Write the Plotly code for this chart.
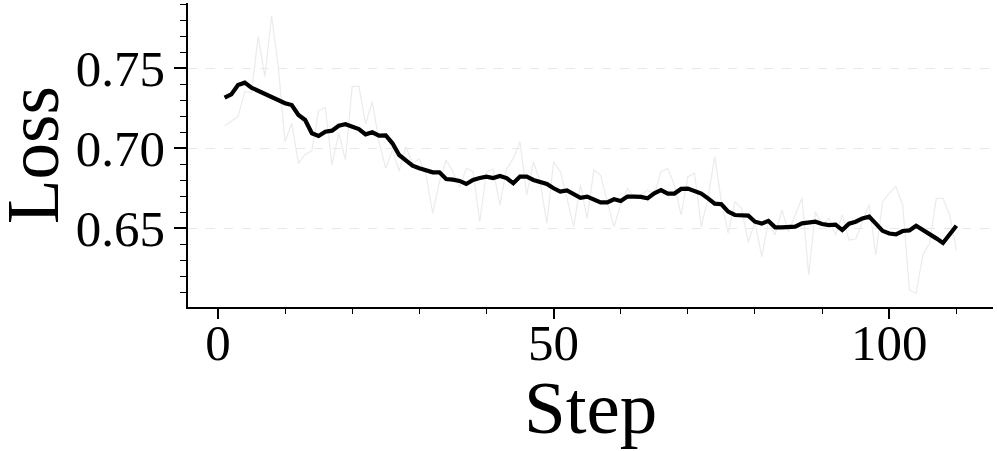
import plotly.graph_objects as go

# training steps 1..110
steps = list(range(1, 111))

# raw per-step loss (faint line)
loss_raw = [
    0.7141, 0.7170, 0.7198, 0.7354, 0.7348, 0.7698, 0.7448, 0.7827, 0.7510, 0.7040,
    0.7156, 0.6906, 0.6962, 0.6985, 0.7235, 0.7256, 0.6896, 0.7094, 0.6927, 0.7385,
    0.7388, 0.7153, 0.7291, 0.7040, 0.6875, 0.6990, 0.6858, 0.7010, 0.6906, 0.6933,
    0.6833, 0.6594, 0.6791, 0.6927, 0.6854, 0.6754, 0.6875, 0.6854, 0.6541, 0.6850,
    0.6870, 0.6646, 0.6870, 0.6937, 0.7041, 0.6708, 0.6916, 0.6791, 0.6531, 0.6916,
    0.6854, 0.6687, 0.6510, 0.6771, 0.6562, 0.6864, 0.6833, 0.6666, 0.6510, 0.6650,
    0.6750, 0.6691, 0.6708, 0.6740, 0.6708, 0.6854, 0.6875, 0.6771, 0.6583, 0.6823,
    0.6844, 0.6510, 0.6687, 0.6948, 0.6666, 0.6469, 0.6666, 0.6625, 0.6412, 0.6541,
    0.6323, 0.6541, 0.6458, 0.6614, 0.6479, 0.6583, 0.6691, 0.6208, 0.6604, 0.6520,
    0.6562, 0.6458, 0.6583, 0.6427, 0.6433, 0.6541, 0.6646, 0.6333, 0.6666, 0.6719,
    0.6760, 0.6646, 0.6114, 0.6094, 0.6333, 0.6406, 0.6687, 0.6687, 0.6583, 0.6364,
]

# smoothed loss (bold line)
loss_smooth = [
    0.7316, 0.7337, 0.7396, 0.7410, 0.7379, 0.7360, 0.7340, 0.7320, 0.7296, 0.7282,
    0.7270, 0.7208, 0.7177, 0.7094, 0.7077, 0.7104, 0.7110, 0.7141, 0.7150, 0.7135,
    0.7120, 0.7087, 0.7100, 0.7079, 0.7080, 0.7031, 0.6958, 0.6925, 0.6891, 0.6875,
    0.6862, 0.6850, 0.6850, 0.6808, 0.6804, 0.6796, 0.6777, 0.6802, 0.6814, 0.6823,
    0.6814, 0.6827, 0.6814, 0.6781, 0.6823, 0.6823, 0.6802, 0.6787, 0.6777, 0.6750,
    0.6729, 0.6737, 0.6714, 0.6691, 0.6698, 0.6681, 0.6662, 0.6662, 0.6681, 0.6670,
    0.6698, 0.6698, 0.6696, 0.6687, 0.6719, 0.6739, 0.6717, 0.6717, 0.6746, 0.6748,
    0.6733, 0.6717, 0.6687, 0.6654, 0.6650, 0.6604, 0.6583, 0.6579, 0.6579, 0.6541,
    0.6529, 0.6546, 0.6506, 0.6506, 0.6510, 0.6510, 0.6531, 0.6535, 0.6541, 0.6527,
    0.6520, 0.6523, 0.6489, 0.6529, 0.6541, 0.6562, 0.6573, 0.6529, 0.6484, 0.6467,
    0.6462, 0.6483, 0.6487, 0.6516, 0.6490, 0.6469, 0.6437, 0.6408, 0.6458, 0.6516,
]

x_ticks = [0, 50, 100]
y_ticks = [0.65, 0.70, 0.75]

FONT = "Liberation Serif, Times New Roman, serif"

fig = go.Figure()
fig.add_trace(go.Scatter(
    x=steps, y=loss_raw, mode="lines",
    line=dict(color="#ebebeb", width=1.2), showlegend=False,
))
fig.add_trace(go.Scatter(
    x=steps, y=loss_smooth, mode="lines",
    line=dict(color="black", width=4.2), showlegend=False,
))

fig.update_layout(
    width=997, height=451,
    margin=dict(l=188, r=4, t=3, b=144),
    plot_bgcolor="white", paper_bgcolor="white",
    font=dict(family=FONT, color="black"),
)
fig.update_xaxes(
    range=[-4.45, 115.45], automargin=False,
    tickvals=x_ticks, ticktext=[str(v) for v in x_ticks],
    tickfont=dict(size=51),
    ticks="outside", ticklen=10, tickwidth=1.5, tickcolor="black",
    ticklabelstandoff=-20,
    minor=dict(ticks="outside", ticklen=5, tickwidth=1.2, tickcolor="black", dtick=10, tick0=0),
    showline=True, linecolor="black", linewidth=1.5,
    showgrid=False, zeroline=False,
)
fig.update_yaxes(
    range=[0.6008, 0.7908], automargin=False,
    tickvals=y_ticks, ticktext=["%.2f" % v for v in y_ticks],
    tickfont=dict(size=51),
    ticks="outside", ticklen=12, tickwidth=1.5, tickcolor="black",
    ticklabelstandoff=-1,
    minor=dict(ticks="outside", ticklen=6, tickwidth=1.2, tickcolor="black", dtick=0.01, tick0=0.6),
    showline=True, linecolor="black", linewidth=1.5,
    showgrid=True, gridcolor="#e8e8e8", gridwidth=1, griddash="dash",
    zeroline=False,
)

# axis titles placed as annotations for precise positioning
fig.add_annotation(
    text="Step", xref="paper", yref="paper", x=0.5, y=0,
    xanchor="center", yanchor="middle", yshift=-100, showarrow=False,
    font=dict(size=75, family=FONT, color="black"),
)
fig.add_annotation(
    text="Loss", xref="paper", yref="paper", x=0, y=0.5,
    xanchor="center", yanchor="middle", xshift=-155, textangle=-90, showarrow=False,
    font=dict(size=73, family=FONT, color="black"),
)

# drop the default page margin so the figure sits at the window's corner
fig.write_html(
    "out.html",
    config={"displayModeBar": False},
    post_script="document.body.style.margin='0';",
)
